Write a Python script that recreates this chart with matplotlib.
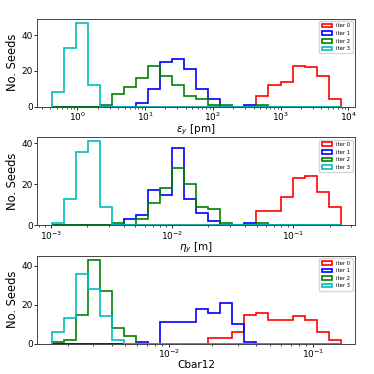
import numpy as np
import matplotlib
matplotlib.use("Agg")
import matplotlib.pyplot as plt

n_bins = 24
labels = ["iter 0", "iter 1", "iter 2", "iter 3"]
colors = ["r", "b", "g", "c"]

# Panel 1: emittance eps_y [pm]
eps_range = (0.42, 7.7e3)
eps_red = [0]*17 + [6, 12, 14, 23, 22, 17, 4]
eps_blue = [0]*7 + [2, 10, 25, 27, 21, 10, 4, 0, 0, 1] + [0]*7
eps_green = [0]*4 + [1, 7, 11, 16, 23, 17, 12, 6, 4, 1, 1, 0, 0, 1] + [0]*6
eps_cyan = [8, 33, 47, 12] + [0]*20

# Panel 2: eta_y [m]
eta_range = (1.02e-3, 0.247)
eta_red = [0]*17 + [7, 7, 14, 23, 24, 16, 9]
eta_blue = [0]*6 + [3, 5, 17, 15, 38, 13, 6, 2, 0, 0, 1] + [0]*7
eta_green = [0]*5 + [1, 0, 3, 11, 18, 28, 20, 9, 8, 1, 0, 0, 1] + [0]*6
eta_cyan = [1, 13, 36, 41, 9] + [0]*19

# Panel 3: Cbar12
cb_range = (1.54e-3, 0.1555)
cb_red = [0]*13 + [3, 3, 6, 15, 16, 12, 12, 14, 12, 6, 2]
cb_blue = [0]*7 + [1, 0, 11, 11, 11, 18, 16, 21, 10, 1] + [0]*7
cb_green = [1, 2, 15, 43, 27, 8, 4] + [0]*17
cb_cyan = [6, 13, 36, 28, 14, 2] + [0]*18

panels = [
    (eps_range, [eps_red, eps_blue, eps_green, eps_cyan], r"$\epsilon_y$ [pm]"),
    (eta_range, [eta_red, eta_blue, eta_green, eta_cyan], r"$\eta_y$ [m]"),
    (cb_range, [cb_red, cb_blue, cb_green, cb_cyan], "Cbar12"),
]

fig = plt.figure(figsize=(3.74, 3.74), dpi=100)
bottoms = [0.715, 0.398, 0.081]
for (rng, series, xlabel), b in zip(panels, bottoms):
    ax = fig.add_axes([0.0997, b, 0.850, 0.235])
    edges = np.logspace(np.log10(rng[0]), np.log10(rng[1]), n_bins + 1)
    centers = np.sqrt(edges[:-1] * edges[1:])
    for counts, col, lab in zip(series, colors, labels):
        ax.hist(centers, bins=edges, weights=counts, histtype="step",
                color=col, lw=1.2, label=lab)
    ax.set_xscale("log")
    ax.set_xlabel(xlabel, fontsize=7.5, labelpad=-0.5)
    ax.set_ylabel("No. Seeds", fontsize=8.3, labelpad=2)
    ax.tick_params(labelsize=6.5, length=2.2, width=0.6, pad=0.8)
    ax.tick_params(which="minor", length=1.3, width=0.5)
    for s in ax.spines.values():
        s.set_linewidth(0.7)
        s.set_color("#444444")
    ax.legend(loc="upper right", fontsize=3.8, borderaxespad=0.5)

fig.savefig("out.png", dpi=100)
